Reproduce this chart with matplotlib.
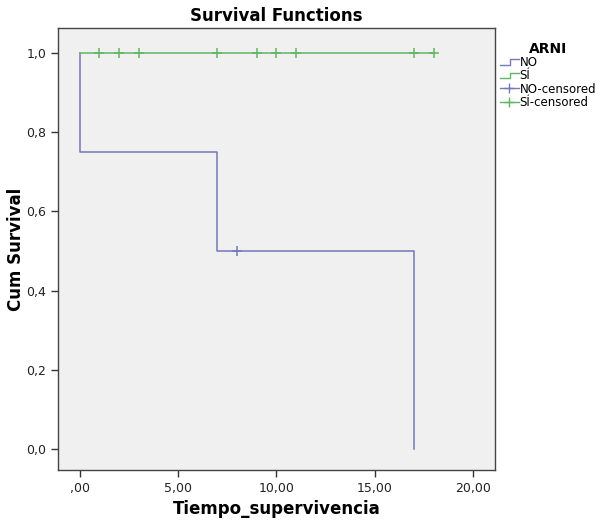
import matplotlib
matplotlib.use("Agg")
import matplotlib.pyplot as plt
from matplotlib.lines import Line2D
from matplotlib.legend_handler import HandlerBase

# Data
no_times = [0, 7, 17]
no_surv = [0.75, 0.50, 0.0]
no_end = 17
no_censored_t = [8]
no_censored_s = [0.5]

si_times = [0]
si_surv = [1.0]
si_end = 18
si_censored_t = [1, 2, 3, 7, 9, 10, 11, 17, 18]

xticks = [0, 5, 10, 15, 20]
xtick_labels = [",00", "5,00", "10,00", "15,00", "20,00"]
yticks = [0.0, 0.2, 0.4, 0.6, 0.8, 1.0]
ytick_labels = ["0,0", "0,2", "0,4", "0,6", "0,8", "1,0"]

c_no = "#7479b8"
c_si = "#62b562"

fig = plt.figure(figsize=(6, 5.2), dpi=100)
ax = fig.add_axes([0.0967, 0.096, 0.728, 0.85])
ax.set_facecolor("#f0f0f0")


def step_xy(times, surv, end):
    xs, ys = [times[0]], [1.0]
    for t, s in zip(times, surv):
        xs += [t, t]
        ys += [ys[-1], s]
    if xs[-1] < end:
        xs.append(end)
        ys.append(ys[-1])
    return xs, ys


xs, ys = step_xy(no_times, no_surv, no_end)
ax.plot(xs, ys, color=c_no, lw=1.1)
xs, ys = step_xy(si_times, si_surv, si_end)
ax.plot(xs, ys, color=c_si, lw=1.1)
ax.plot(no_censored_t, no_censored_s, ls="none", marker="+", ms=7, mew=1.1, color=c_no)
ax.plot(si_censored_t, [1.0] * len(si_censored_t), ls="none", marker="+", ms=7, mew=1.1, color=c_si)

ax.set_xlim(-1.1, 21.1)
ax.set_ylim(-0.053, 1.063)
ax.set_xticks(xticks)
ax.set_xticklabels(xtick_labels)
ax.set_yticks(yticks)
ax.set_yticklabels(ytick_labels)
ax.tick_params(labelsize=9, length=5, width=1, color="#333333", labelcolor="#222222")
for s in ax.spines.values():
    s.set_color("#444444")
    s.set_linewidth(1)

ax.set_title("Survival Functions", fontsize=12, fontweight="bold", pad=5)
ax.set_xlabel("Tiempo_supervivencia", fontsize=12, fontweight="bold", labelpad=4)
ax.set_ylabel("Cum Survival", fontsize=12, fontweight="bold", labelpad=1)


class StepHandler(HandlerBase):
    def create_artists(self, legend, orig_handle, xdescent, ydescent, width, height, fontsize, trans):
        c = orig_handle.get_color()
        x0 = -xdescent
        y0 = -ydescent
        xs = [x0, x0 + width * 0.55, x0 + width * 0.55, x0 + width]
        ys = [y0 + height * 0.15, y0 + height * 0.15, y0 + height * 0.8, y0 + height * 0.8]
        ln = Line2D(xs, ys, color=c, lw=1, transform=trans)
        return [ln]


class StepH(Line2D):
    pass


h_no = StepH([], [], color=c_no)
h_si = StepH([], [], color=c_si)
h_noc = Line2D([], [], color=c_no, marker="+", ms=7, lw=1)
h_sic = Line2D([], [], color=c_si, marker="+", ms=7, lw=1)

leg = fig.legend([h_no, h_si, h_noc, h_sic], ["NO", "SÍ", "NO-censored", "SÍ-censored"],
                 loc="upper left", bbox_to_anchor=(0.815, 0.94), frameon=False,
                 title="ARNI", fontsize=8.5, title_fontproperties={"weight": "bold", "size": 10},
                 handlelength=1.6, handletextpad=0.1, labelspacing=0.02,
                 handler_map={StepH: StepHandler()})

fig.savefig("out.png", dpi=100, facecolor="white")
